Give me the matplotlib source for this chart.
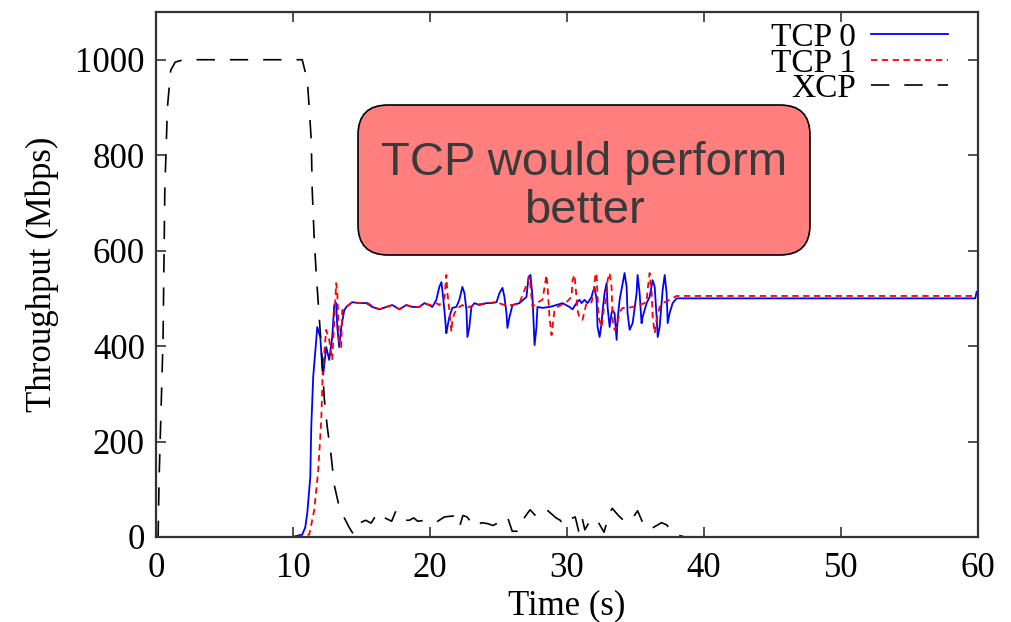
import matplotlib
matplotlib.use("Agg")
import matplotlib.pyplot as plt
from matplotlib.patches import FancyBboxPatch

# valeurs (temps en s, débit en Mbps)
tcp0_t = [0, 9.94, 10.67, 10.89, 11.04, 11.26, 11.33, 11.47, 11.77, 11.99, 12.13, 12.20,
          12.42, 12.64, 12.86, 13.01, 13.15, 13.23, 13.37, 13.52, 13.74, 13.89, 14.32,
          14.84, 15.35, 15.79, 16.30, 16.81, 17.25, 17.76, 18.27, 18.71, 19.22, 19.59,
          19.95, 20.17, 20.46, 20.68, 20.83, 20.90, 21.05, 21.19, 21.27, 21.41, 21.63,
          21.92, 22.14, 22.36, 22.51, 22.66, 22.73, 22.87, 23.02, 23.24, 23.61, 24.12,
          24.48, 24.85, 25.07, 25.29, 25.43, 25.58, 25.65, 25.80, 26.02, 26.53, 27.04,
          27.19, 27.33, 27.48, 27.55, 27.63, 27.77, 27.84, 28.21, 28.72, 29.23, 29.67,
          30.18, 30.40, 30.69, 30.91, 31.06, 31.28, 31.50, 31.79, 31.86, 32.01, 32.16,
          32.23, 32.38, 32.52, 32.60, 32.74, 32.89, 32.96, 33.11, 33.25, 33.33, 33.47,
          33.62, 33.69, 33.84, 34.06, 34.20, 34.35, 34.42, 34.57, 34.79, 35.08, 35.15,
          35.30, 35.44, 35.52, 35.81, 36.03, 36.25, 36.40, 36.54, 36.62, 36.76, 36.98,
          37.13, 37.27, 37.35, 37.49, 37.71, 38.00, 59.80, 59.90, 60]
tcp0_v = [0, 0, 5, 20, 50, 126, 230, 335, 440, 419, 356, 340,
          398, 371, 419, 486, 490, 440, 398, 440, 475, 482, 492,
          490, 490, 482, 477, 482, 486, 477, 486, 482, 482, 490,
          486, 482, 497, 524, 534, 517, 475, 427, 440, 461, 480,
          482, 497, 524, 511, 475, 419, 440, 482, 490, 486, 490,
          490, 492, 511, 522, 503, 469, 438, 461, 486, 490, 503,
          545, 549, 503, 455, 402, 440, 482, 480, 482, 486, 490,
          482, 477, 490, 497, 490, 497, 490, 503, 511, 524, 497,
          440, 419, 448, 475, 511, 532, 482, 440, 469, 475, 469,
          413, 455, 497, 532, 553, 524, 469, 434, 448, 511, 549,
          511, 448, 461, 490, 503, 538, 524, 461, 419, 440, 517,
          549, 511, 448, 469, 490, 500, 500, 514, 514]

tcp1_t = [0, 10.45, 11.18, 11.55, 11.84, 12.06, 12.17, 12.42, 12.64, 12.86, 13.15, 13.23,
          13.37, 13.52, 13.59, 13.89, 14.32, 14.84, 15.35, 15.79, 16.30, 16.81, 17.25,
          17.76, 18.27, 18.71, 19.22, 19.59, 19.95, 20.46, 20.68, 21.05, 21.19, 21.27,
          21.41, 21.56, 21.63, 21.78, 21.92, 22.14, 22.36, 22.66, 23.24, 24.12, 24.85,
          25.43, 26.02, 26.53, 27.04, 27.26, 27.48, 27.77, 28.21, 28.50, 28.58, 28.72,
          28.87, 28.94, 29.09, 29.31, 29.82, 29.96, 30.33, 30.40, 30.55, 30.69, 30.77,
          30.91, 31.13, 31.42, 31.79, 31.94, 32.08, 32.16, 32.30, 32.52, 32.67, 32.89,
          32.96, 33.11, 33.25, 33.33, 33.47, 33.62, 33.84, 34.06, 34.42, 34.79, 35.30,
          35.81, 35.88, 36.03, 36.18, 36.25, 36.40, 36.54, 36.76, 37.13, 37.49, 38.00, 60]
tcp1_v = [0, 0, 5, 57, 140, 245, 350, 434, 413, 371, 532, 511,
          406, 398, 475, 482, 492, 490, 492, 484, 477, 482, 486,
          477, 486, 482, 482, 490, 486, 490, 486, 500, 549, 511,
          475, 430, 455, 469, 475, 482, 486, 480, 486, 490, 492,
          486, 486, 490, 528, 545, 482, 490, 497, 549, 524, 461,
          423, 440, 475, 482, 490, 492, 503, 538, 549, 503, 475,
          459, 455, 490, 492, 511, 553, 548, 461, 440, 475, 503,
          538, 553, 524, 455, 434, 440, 471, 480, 480, 482, 486,
          492, 517, 553, 511, 461, 427, 455, 482, 492, 497, 505, 505]

xcp_t = [0, 0.15, 0.22, 0.51, 0.64, 0.83, 1.07, 1.40, 2.0, 10.67, 11.04, 11.18, 11.33,
         11.40, 11.55, 11.69, 11.91, 12.06, 12.28, 12.50, 12.79, 13.0, 13.37, 13.74,
         14.1, 14.4, 14.84, 15.3, 15.7, 16.2, 16.7, 17.2, 17.5, 18.0, 18.5, 18.8, 19.1,
         19.7, 20.1, 20.4, 21.05, 21.7, 22.14, 22.4, 22.7, 23.3, 23.75, 24.2, 24.6,
         24.85, 25.3, 25.65, 26.0, 26.45, 26.8, 27.3, 27.85, 28.3, 28.6, 28.8, 29.2,
         29.5, 29.75, 30.0, 30.6, 30.85, 31.1, 31.3, 31.8, 32.3, 32.7, 33.1, 33.3,
         33.75, 34.3, 34.8, 35.15, 35.6, 35.95, 36.3, 36.6, 36.9, 37.3, 37.65, 38.2,
         38.6, 60]
xcp_v = [0, 0, 120, 413, 727, 900, 978, 995, 1000, 1000, 957, 900, 831,
         727, 622, 553, 461, 400, 290, 230, 168, 110, 63, 40,
         20, 6, 29, 35, 29, 52, 40, 33, 54, 35, 35, 40, 33,
         35, 32, 30, 42, 44, 20, 45, 42, 20, 30, 28, 24,
         28, 40, 42, 12, 12, 37, 57, 40, 50, 55, 50, 40,
         35, 25, 35, 42, 12, 40, 15, 40, 30, 10, 50, 60,
         45, 30, 40, 55, 25, 15, 20, 25, 30, 25, 8, 3,
         0, 0]

x_ticks = [0, 10, 20, 30, 40, 50, 60]
y_ticks = [0, 200, 400, 600, 800, 1000]

plt.rcParams['font.family'] = ['Liberation Serif', 'DejaVu Serif']

fig = plt.figure(figsize=(10.12, 6.22), dpi=100)
ax = fig.add_axes([0.1542, 0.1367, 0.8122, 0.844])

ax.plot(tcp0_t, tcp0_v, color='#0000ff', lw=1.3, label='TCP 0')
ax.plot(tcp1_t, tcp1_v, color='#ff0000', lw=1.3, dashes=(3.5, 2.5), label='TCP 1')
ax.plot(xcp_t, xcp_v, color='black', lw=1.2, dashes=(11, 9), label='XCP')

ax.set_xlim(0, 60)
ax.set_ylim(0, 1100)
ax.set_xticks(x_ticks)
ax.set_yticks(y_ticks)
ax.tick_params(direction='in', length=7, width=1.2, labelsize=25, pad=8,
               top=True, right=True, color='#333333')
ax.tick_params(axis='x', pad=11)
for s in ax.spines.values():
    s.set_linewidth(1.6)
    s.set_color('#333333')

ax.set_xlabel('Time (s)', fontsize=25, labelpad=3)
ax.set_ylabel('Throughput (Mbps)', fontsize=25, labelpad=12)

leg = ax.legend(loc='upper right', frameon=False, markerfirst=False, fontsize=24,
                handlelength=2.3, handletextpad=0.45, labelspacing=-0.15,
                borderpad=0.0, borderaxespad=0.0, bbox_to_anchor=(0.963, 0.98))

# encadré d'annotation
box = FancyBboxPatch((3.58, 3.67), 4.52, 1.50, boxstyle='round,pad=0,rounding_size=0.3',
                     transform=fig.dpi_scale_trans, facecolor='#ff7f7f',
                     edgecolor='black', lw=1.2, zorder=5)
fig.patches.append(box)
fig.text(5.84 / 10.12, 4.35 / 6.22, 'TCP would perform\nbetter', ha='center', va='center',
         fontsize=34, color='#3a3a3a', family=['Liberation Sans', 'DejaVu Sans'],
         linespacing=1.12, zorder=6)

fig.savefig('out.png', dpi=100)
